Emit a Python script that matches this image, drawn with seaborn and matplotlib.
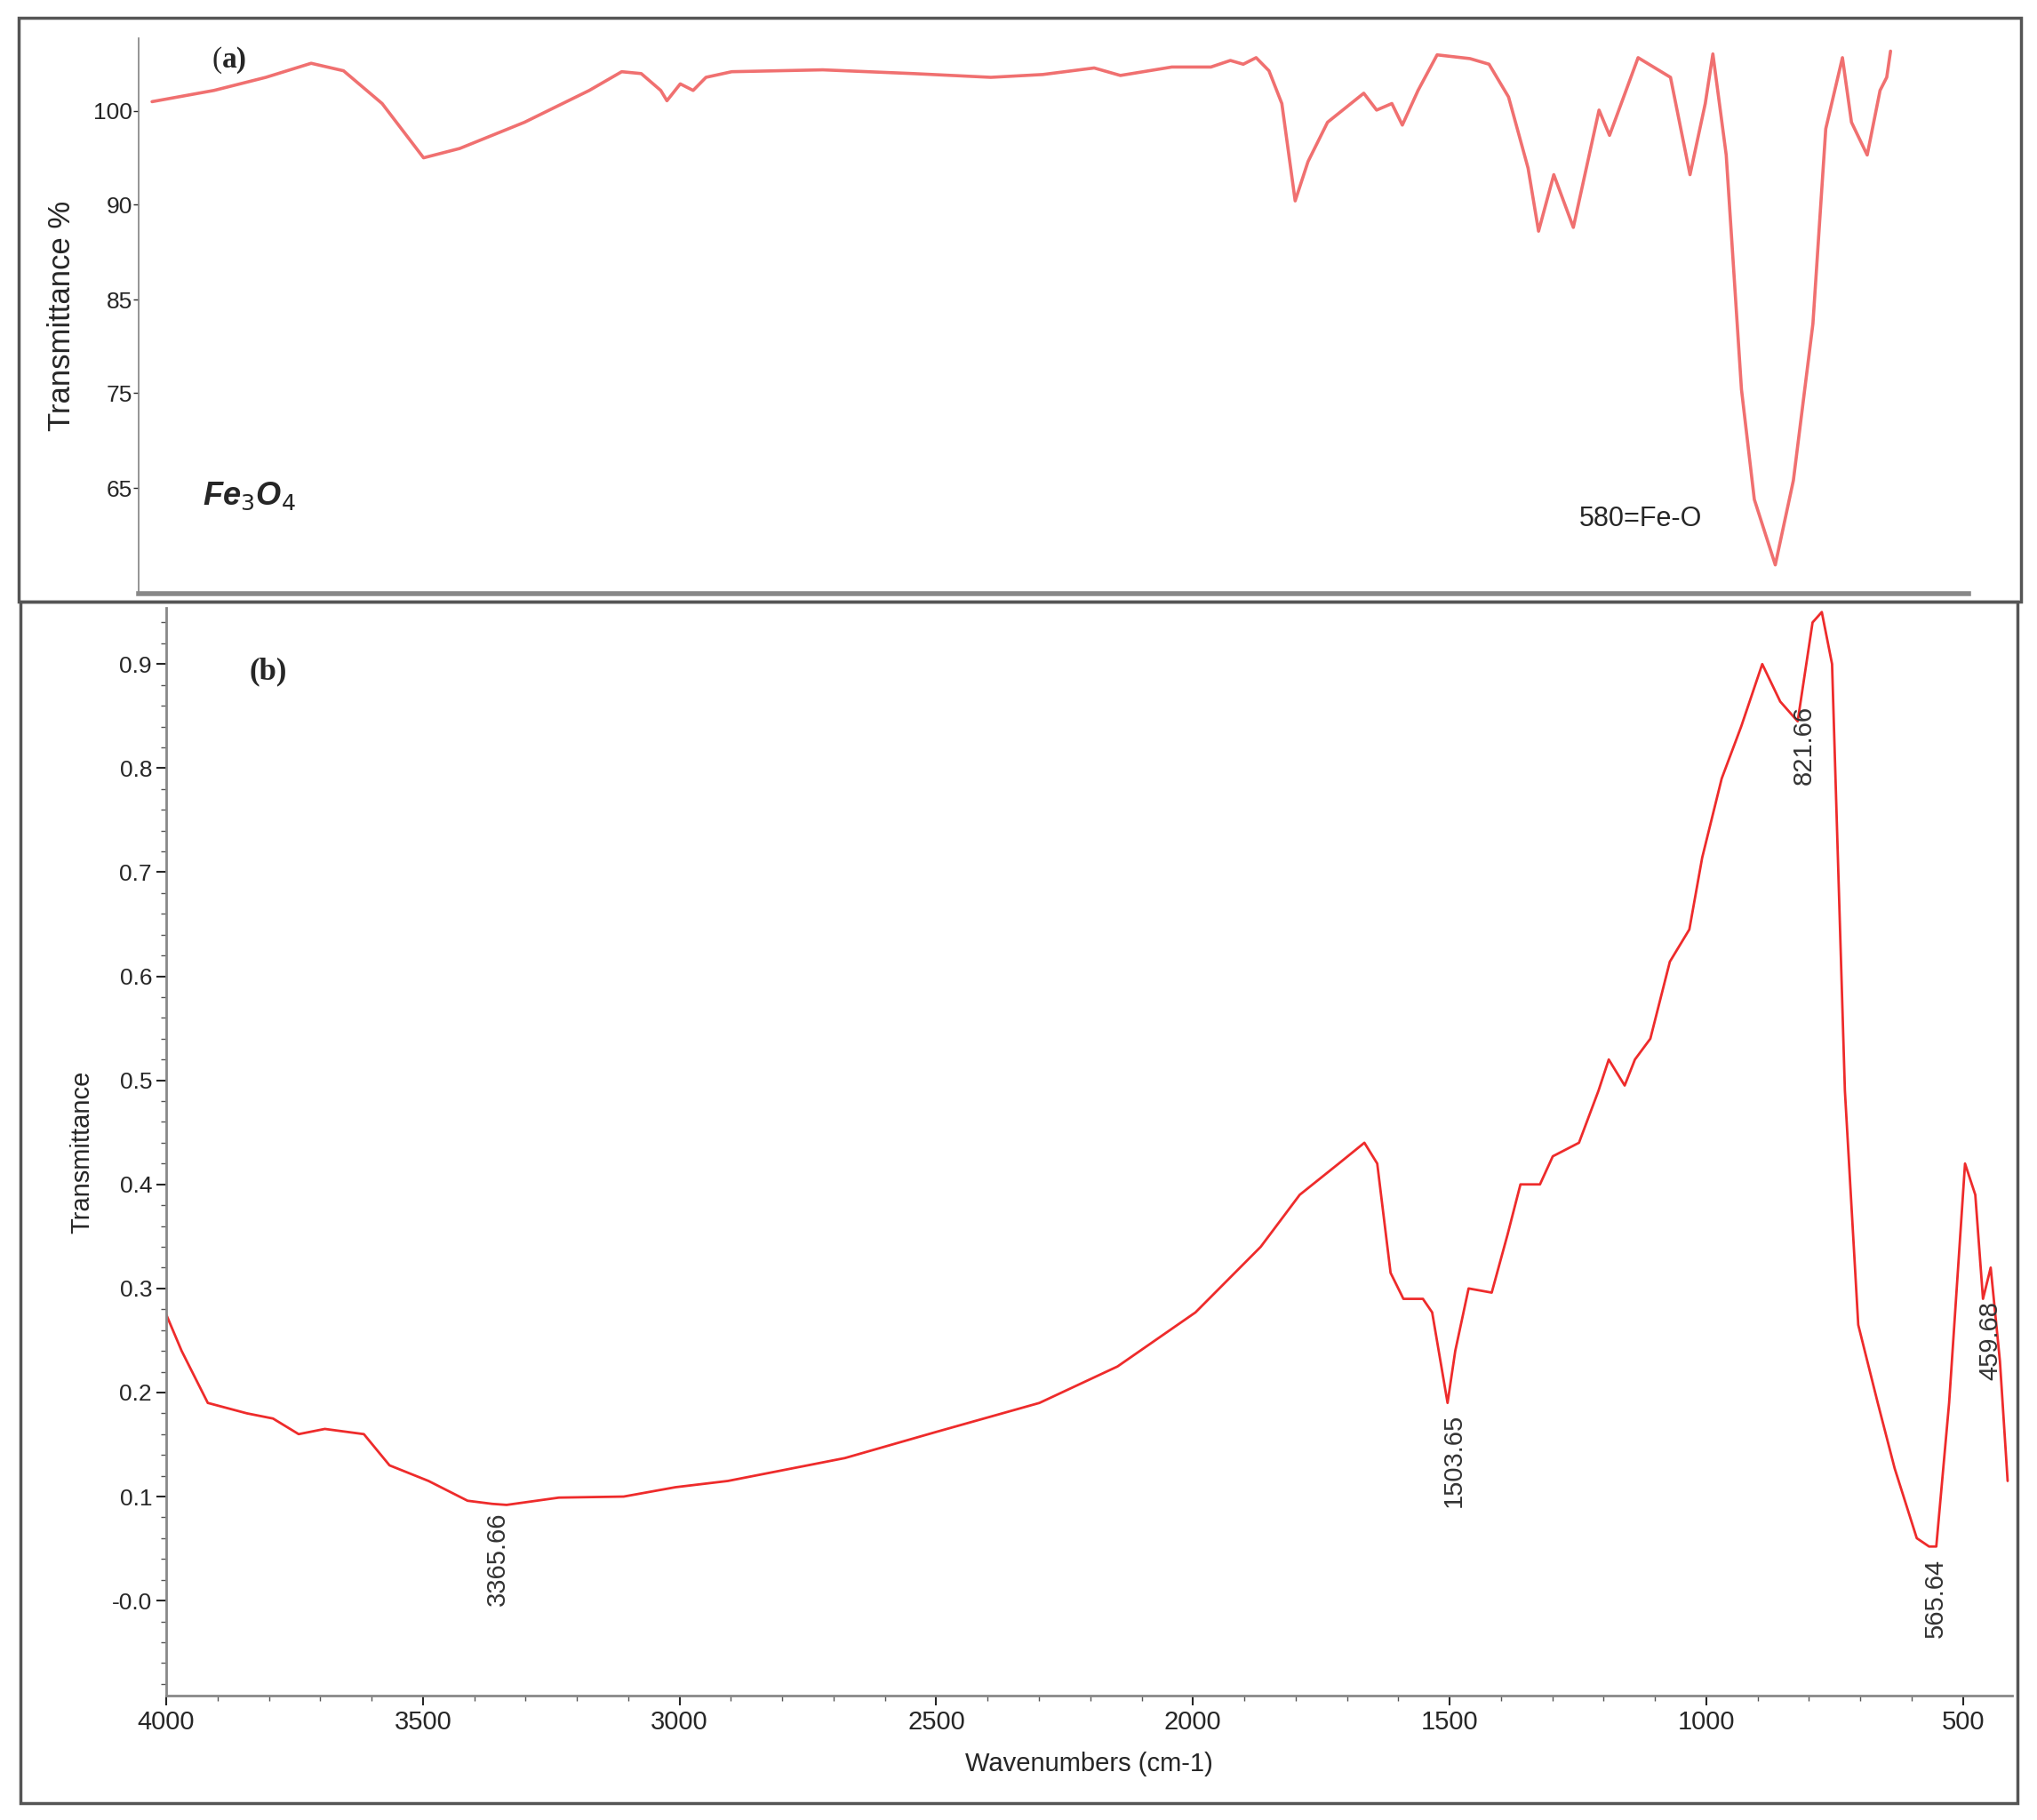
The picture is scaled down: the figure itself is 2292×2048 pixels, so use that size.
import numpy as np
import matplotlib
matplotlib.use("Agg")
import matplotlib.pyplot as plt
import seaborn as sns
from matplotlib.patches import Rectangle
from matplotlib.ticker import MultipleLocator

# panel (a): Fe3O4 spectrum, wavenumber vs transmittance %
wn_a = [3986, 3856, 3747, 3652, 3584, 3503, 3416, 3340, 3204, 3068, 3000, 2959, 2918, 2905,
        2877, 2850, 2823, 2769, 2578, 2388, 2225, 2116, 2008, 1953, 1845, 1763, 1722, 1695,
        1668, 1641, 1614, 1586, 1559, 1518, 1442, 1415, 1383, 1361, 1328, 1288, 1219, 1179,
        1138, 1097, 1075, 1043, 1002, 948, 926, 866, 798, 757, 725, 709, 681, 649, 622, 578,
        540, 499, 472, 437, 418, 385, 358, 344, 336]
tr_a = [101.0, 102.2, 103.6, 105.1, 104.3, 100.8, 95.0, 96.0, 98.8, 102.2, 104.2, 104.0,
        102.2, 101.1, 102.9, 102.2, 103.6, 104.2, 104.4, 104.0, 103.6, 103.9, 104.6, 103.8,
        104.7, 104.7, 105.4, 105.0, 105.7, 104.3, 100.8, 90.4, 94.6, 98.8, 101.9, 100.1,
        100.8, 98.5, 102.2, 106.0, 105.6, 105.0, 101.5, 93.9, 88.6, 93.2, 88.8, 100.1, 97.4,
        105.7, 103.6, 93.2, 100.8, 106.1, 95.3, 75.4, 63.8, 56.9, 65.8, 82.4, 98.1, 105.7,
        98.8, 95.3, 102.2, 103.6, 106.4]
tick_lab_a = [65, 75, 85, 90, 100]
tick_pos_a = [376, 303, 231, 158, 86]  # non-uniform scale of the original plot

# panel (b)
wn_b = [4000, 3970, 3919, 3843, 3792, 3742, 3691, 3615, 3565, 3489, 3413, 3365, 3337, 3235,
        3109, 3008, 2906, 2678, 2501, 2299, 2147, 1995, 1868, 1792, 1716, 1666, 1641, 1615,
        1590, 1552, 1534, 1504, 1489, 1463, 1418, 1387, 1362, 1324, 1299, 1248, 1210, 1190,
        1159, 1139, 1109, 1071, 1033, 1008, 970, 932, 891, 856, 822, 793, 775, 755, 730, 704,
        666, 633, 590, 566, 552, 527, 496, 476, 461, 446, 428, 413]
tr_b = [0.275, 0.24, 0.19, 0.18, 0.175, 0.16, 0.165, 0.16, 0.13, 0.115, 0.096, 0.093, 0.092,
        0.099, 0.10, 0.109, 0.115, 0.137, 0.162, 0.19, 0.225, 0.277, 0.34, 0.39, 0.42, 0.44,
        0.42, 0.315, 0.29, 0.29, 0.277, 0.19, 0.24, 0.30, 0.296, 0.352, 0.40, 0.40, 0.427,
        0.44, 0.49, 0.52, 0.495, 0.52, 0.54, 0.614, 0.645, 0.714, 0.79, 0.84, 0.90, 0.864,
        0.845, 0.94, 0.95, 0.90, 0.49, 0.265, 0.19, 0.127, 0.06, 0.052, 0.052, 0.19, 0.42,
        0.39, 0.29, 0.32, 0.23, 0.115]
peaks_b = [3365.66, 1503.65, 821.66, 565.64, 459.68]
peak_txt_y = [0.085, 0.18, 0.86, 0.04, 0.25]
peak_va = ["top", "top", "top", "top", "center"]

sns.set_theme(style="white")
plt.rcParams['font.family'] = ['Liberation Sans', 'DejaVu Sans']

fig = plt.figure(figsize=(22.92, 20.48), dpi=100)
red = "#ee2b2b"

# frames around panels
fig.patches.append(Rectangle((0.009, 0.6695), 0.983, 0.3205, transform=fig.transFigure,
                             fill=False, ec="#555555", lw=2.5))
fig.patches.append(Rectangle((0.0102, 0.0093), 0.980, 0.660, transform=fig.transFigure,
                             fill=False, ec="#555555", lw=2.5))

# ---- (a)
ax1 = fig.add_axes([0.0682, 0.674, 0.898, 0.305])
def ya(vals):
    vals = np.asarray(vals, float)
    out = np.interp(vals, tick_lab_a, tick_pos_a)
    hi = vals > 100
    out[hi] = 86 - (vals[hi] - 100) * 7.2
    lo = vals < 65
    out[lo] = 376 + (65 - vals[lo]) * 7.3
    return -out
sns.lineplot(x=wn_a, y=ya(tr_a), ax=ax1, color="#f07070", lw=2.6, sort=False)
ax1.set_xlim(4000 + 5 * 2.718, 4000 - 1408 * 2.718)
ax1.set_ylim(-457, -30)
ax1.set_yticks([-p for p in tick_pos_a])
ax1.set_yticklabels([str(v) for v in tick_lab_a], fontsize=19)
ax1.set_xticks([])
ax1.tick_params(axis="y", length=4, width=1, left=True, pad=1)
for s in ["top", "right"]:
    ax1.spines[s].set_visible(False)
ax1.spines["left"].set_color("#888888")
ax1.spines["bottom"].set_color("#888888")
ax1.spines["bottom"].set_linewidth(4)
ax1.set_ylabel("Transmittance %", fontsize=25, labelpad=14)
ax1.text(0.04, 0.985, "(", transform=ax1.transAxes, fontsize=24, family="Liberation Serif",
         va="top")
ax1.text(0.0455, 0.985, "a)", transform=ax1.transAxes, fontsize=24, family="Liberation Serif",
         fontweight="bold", va="top")
ax1.text(0.035, 0.16, "Fe$_3$O$_4$", transform=ax1.transAxes, fontsize=26,
         fontstyle="italic", fontweight="bold")
ax1.text(860, ya([61])[0], "580=Fe-O", fontsize=22, ha="center")

# ---- (b)
ax2 = fig.add_axes([0.0816, 0.0685, 0.906, 0.5975])
sns.lineplot(x=wn_b, y=tr_b, ax=ax2, color=red, lw=2, sort=False)
ax2.set_xlim(4000, 405)
ax2.set_ylim(-0.091, 0.954)
ax2.set_yticks(np.arange(0, 1.0, 0.1))
ax2.set_yticklabels(["-0.0"] + [f"{v:.1f}" for v in np.arange(0.1, 1.0, 0.1)], fontsize=19)
ax2.set_xticks([4000, 3500, 3000, 2500, 2000, 1500, 1000, 500])
ax2.tick_params(axis="x", labelsize=21, length=8, bottom=True, width=1.5)
ax2.tick_params(axis="y", length=8, left=True, width=1.5)
ax2.xaxis.set_minor_locator(MultipleLocator(100))
ax2.yaxis.set_minor_locator(MultipleLocator(0.02))
ax2.tick_params(which="minor", length=4, bottom=True, left=True, color="#555555")
for s in ["top", "right"]:
    ax2.spines[s].set_visible(False)
ax2.spines["left"].set_color("#888888")
ax2.spines["bottom"].set_color("#888888")
ax2.spines["left"].set_linewidth(2)
ax2.spines["bottom"].set_linewidth(2)
ax2.set_xlabel("Wavenumbers (cm-1)", fontsize=21, labelpad=14)
ax2.set_ylabel("Transmittance", fontsize=21, labelpad=14)
ax2.text(0.045, 0.955, "(b)", transform=ax2.transAxes, fontsize=25, family="Liberation Serif",
         fontweight="bold", va="top")
for p, ty, va in zip(peaks_b, peak_txt_y, peak_va):
    ax2.text(p - 12, ty, f"{p:.2f}", rotation=90, fontsize=21, ha="center", va=va, color="#333333")

fig.savefig("out.png", dpi=100)
